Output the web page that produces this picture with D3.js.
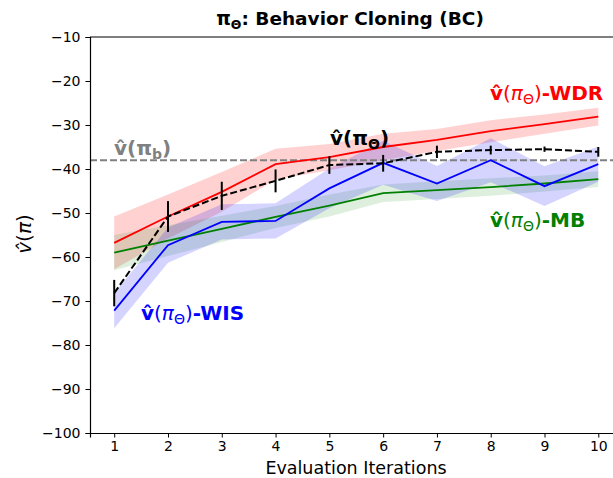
<!DOCTYPE html>
<html><head><meta charset="utf-8">
<script src="https://cdn.jsdelivr.net/npm/d3@7"></script>
<style>body{margin:0;background:#fff;} text{font-family:"DejaVu Sans",sans-serif;}</style>
</head><body>
<svg id="c" width="613" height="478"></svg>
<script>
const iterations = [1,2,3,4,5,6,7,8,9,10];
const wdr = [-56.8,-50.8,-45.2,-38.9,-37.3,-35.0,-33.4,-31.4,-29.8,-28.1];
const wdrStd = [6,5,4.5,3.5,3,3,2.5,2.5,2.2,2];
const mb = [-59.0,-56.3,-53.6,-50.9,-48.3,-45.5,-44.8,-44.1,-43.3,-42.3];
const mbStd = [4,3.5,3,2.5,2.5,2,2,2,1.8,1.8];
const wis = [-72.2,-57.3,-52.0,-51.8,-44.4,-38.6,-43.3,-38.0,-43.9,-38.9];
const wisStd = [4,4,4,4,4.5,5,4,5,4.5,4];
const trueVal = [-68.2,-50.8,-46.1,-42.7,-39.1,-38.7,-36.1,-35.7,-35.5,-36.1];
const trueErr = [3,3.5,3.2,2.6,2,1.9,1.4,1,0.6,1.1];
const behavior = -38.0;
const yTicks = [-100,-90,-80,-70,-60,-50,-40,-30,-20,-10];

const svg = d3.select("#c");
const x = d3.scaleLinear().domain([0.55,10.45]).range([90,622.5]);
const y = d3.scaleLinear().domain([-100,-10]).range([433,37]);

const band = (m,s)=>d3.area().x((d,i)=>x(iterations[i])).y0((d,i)=>y(m[i]-s[i])).y1((d,i)=>y(m[i]+s[i]))(m);
const line = d3.line().x((d,i)=>x(iterations[i])).y(d=>y(d));

const g = svg.append("g");
g.append("path").attr("d",band(wdr,wdrStd)).attr("fill","#ff0000").attr("opacity",0.18);
g.append("path").attr("d",band(mb,mbStd)).attr("fill","#008000").attr("opacity",0.13);
g.append("path").attr("d",band(wis,wisStd)).attr("fill","#0000ff").attr("opacity",0.17);

g.append("line").attr("x1",x(0.55)).attr("x2",x(10.45)).attr("y1",y(behavior)).attr("y2",y(behavior))
 .attr("stroke","#808080").attr("stroke-width",2).attr("stroke-dasharray","7,3");

g.append("path").attr("d",line(wdr)).attr("fill","none").attr("stroke","#ff0000").attr("stroke-width",1.8);
g.append("path").attr("d",line(mb)).attr("fill","none").attr("stroke","#008000").attr("stroke-width",1.8);
g.append("path").attr("d",line(wis)).attr("fill","none").attr("stroke","#0000ff").attr("stroke-width",1.8);
g.append("path").attr("d",line(trueVal)).attr("fill","none").attr("stroke","#000").attr("stroke-width",2).attr("stroke-dasharray","7,3");
g.selectAll(".eb").data(trueVal).enter().append("line")
 .attr("x1",(d,i)=>x(iterations[i])).attr("x2",(d,i)=>x(iterations[i]))
 .attr("y1",(d,i)=>y(d-trueErr[i])).attr("y2",(d,i)=>y(d+trueErr[i]))
 .attr("stroke","#000").attr("stroke-width",2);

// axes
const xa = svg.append("g").attr("transform","translate(0,433)")
 .call(d3.axisBottom(x).tickValues(iterations).tickFormat(d3.format("d")).tickSize(4.5).tickPadding(4));
const ya = svg.append("g").attr("transform","translate(90,0)")
 .call(d3.axisLeft(y).tickValues(yTicks).tickFormat(d=>"\u2212"+Math.abs(d)).tickSize(4.5).tickPadding(5));
[xa,ya].forEach(a=>{a.selectAll("text").attr("font-size",14).attr("fill","#000").attr("font-family","DejaVu Sans");
 a.selectAll("line").attr("stroke","#000").attr("stroke-width",1); a.select(".domain").attr("stroke","#000").attr("stroke-width",1.2);});
svg.append("line").attr("x1",90).attr("x2",613).attr("y1",37).attr("y2",37).attr("stroke","#000").attr("stroke-width",1.2);

// title
const t = svg.append("text").attr("x",350).attr("y",25).attr("text-anchor","middle").attr("font-size",18.5).attr("font-weight","bold");
t.append("tspan").text("\u03c0");
t.append("tspan").attr("font-size",12.5).attr("dy",3.5).text("\u0398");
t.append("tspan").attr("dy",-3.5).text(": Behavior Cloning (BC)");

svg.append("text").attr("x",356).attr("y",474).attr("text-anchor","middle").attr("font-size",17.5).text("Evaluation Iterations");
const yl = svg.append("text").attr("transform","translate(31,234) rotate(-90)").attr("text-anchor","middle").attr("font-size",20);
yl.append("tspan").attr("font-style","italic").text("v\u0302");
yl.append("tspan").text("(");
yl.append("tspan").attr("font-style","italic").text("\u03c0");
yl.append("tspan").text(")");

function label(xp,yp,color,sub,suffix,boldPi){
  const tx = svg.append("text").attr("x",xp).attr("y",yp).attr("fill",color).attr("font-size",20);
  tx.append("tspan").attr("font-weight","bold").text("v\u0302");
  tx.append("tspan").attr("font-weight",boldPi?"bold":"normal").text("(");
  tx.append("tspan").attr("font-weight",boldPi?"bold":"normal").attr("font-style",boldPi?"normal":"italic").text("\u03c0");
  tx.append("tspan").attr("font-size",14).attr("dy",4).attr("font-weight",boldPi?"bold":"normal").text(sub);
  tx.append("tspan").attr("dy",-4).attr("font-weight",boldPi?"bold":"normal").text(")");
  if(suffix) tx.append("tspan").attr("font-weight","bold").text(suffix);
}
label(114,155,"#808080","b","",true);
label(330,145,"#000","\u0398","",true);
label(490,100,"#ff0000","\u0398","-WDR",false);
label(490,227,"#008000","\u0398","-MB",false);
label(141,320,"#0000ff","\u0398","-WIS",false);
</script>
</body></html>
